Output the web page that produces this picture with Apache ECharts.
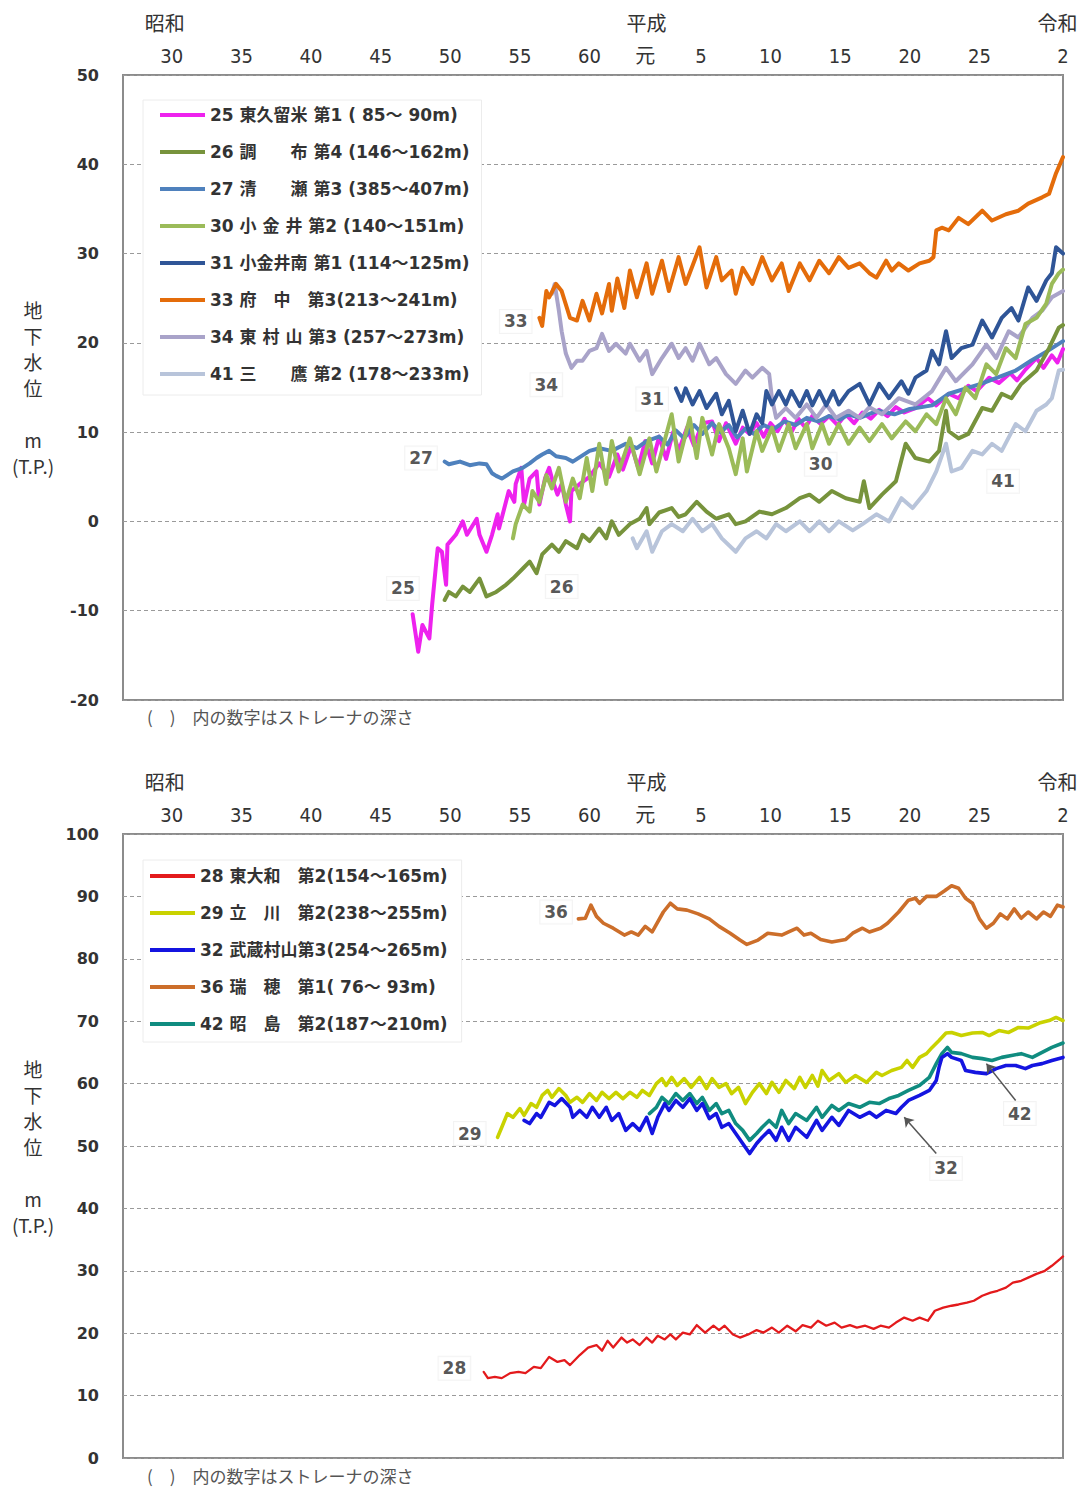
<!DOCTYPE html>
<html lang="ja">
<head>
<meta charset="utf-8">
<title>地下水位の経年変化</title>
<script src="https://cdn.jsdelivr.net/npm/echarts@6/dist/echarts.min.js"></script>
<style>
  html, body { margin: 0; padding: 0; background: #fff; }
  #chart { width: 1091px; height: 1488px; }
</style>
</head>
<body>
<div id="chart"></div>
<script>
// ---------- axis labels (western year -> Japanese era year) ----------
const tickYears  = [1955, 1960, 1965, 1970, 1975, 1980, 1985, 1989, 1993, 1998, 2003, 2008, 2013, 2019];
const tickLabels = ['30', '35', '40', '45', '50', '55', '60', '元', '5', '10', '15', '20', '25', '2'];
const eraYears   = [1954.5, 1989.1, 2018.6];
const eraLabels  = ['昭和', '平成', '令和'];

// ---------- upper panel: groundwater level (m, T.P.) ----------
const s25 = [[1972.3,-10.4],[1972.7,-14.6],[1973.0,-11.6],[1973.5,-13.1],[1973.7,-9.3],[1974.0,-4.5],[1974.1,-3.0],[1974.4,-3.4],[1974.7,-7.1],[1974.8,-2.6],[1975.4,-1.5],[1975.9,0.0],[1976.2,-1.5],[1976.9,0.3],[1977.1,-1.5],[1977.6,-3.4],[1978.0,-1.5],[1978.4,0.8],[1978.5,-0.8],[1979.0,2.2],[1979.2,3.4],[1979.6,2.2],[1979.7,4.2],[1980.1,6.0],[1980.3,1.9],[1980.7,4.8],[1981.2,5.6],[1981.4,1.9],[1981.8,4.8],[1982.1,6.0],[1982.3,4.8],[1982.7,3.0],[1983.0,4.2],[1983.3,1.9],[1983.6,0.0],[1983.7,3.4],[1984.3,4.2],[1985.0,5.0],[1985.7,6.5],[1986.4,5.0],[1987.0,7.5],[1987.4,5.8],[1988.0,8.5],[1988.5,6.0],[1989.0,9.0],[1989.5,6.5],[1990.0,9.5],[1990.5,7.0],[1991.0,10.0],[1991.4,7.9],[1992.0,10.5],[1992.5,8.5],[1993.1,11.0],[1993.8,11.2],[1994.3,9.0],[1994.8,11.0],[1995.5,8.7],[1996.0,10.5],[1996.5,9.8],[1997.0,11.0],[1997.5,9.5],[1998.0,11.0],[1998.5,10.1],[1999.0,11.5],[1999.5,10.0],[2000.0,11.5],[2000.5,10.5],[2001.0,11.8],[2001.6,10.9],[2002.2,11.8],[2002.8,10.8],[2003.4,12.0],[2004.0,11.0],[2004.6,12.2],[2005.2,11.5],[2005.8,12.5],[2006.4,11.8],[2007.0,12.8],[2007.6,12.2],[2008.4,12.7],[2009.3,13.8],[2009.9,13.0],[2010.8,14.3],[2011.5,13.8],[2012.2,15.2],[2012.8,14.6],[2013.7,16.1],[2014.4,15.5],[2015.2,16.6],[2015.7,15.8],[2016.3,17.0],[2017.1,18.3],[2017.6,17.2],[2018.2,18.6],[2018.6,17.8],[2019.0,19.3]];
const s26 = [[1974.6,-8.8],[1974.9,-7.9],[1975.4,-8.4],[1975.9,-7.3],[1976.4,-7.9],[1977.1,-6.4],[1977.6,-8.4],[1978.3,-7.9],[1979.0,-7.1],[1979.5,-6.4],[1980.2,-5.3],[1980.7,-4.5],[1981.2,-5.8],[1981.6,-3.7],[1982.3,-2.6],[1982.8,-3.4],[1983.3,-2.2],[1984.1,-3.0],[1984.5,-1.5],[1985.0,-2.2],[1985.7,-0.8],[1986.2,-1.9],[1986.6,0.0],[1987.1,-1.5],[1987.9,-0.3],[1988.6,0.3],[1989.1,1.5],[1989.3,-0.3],[1990.0,1.0],[1990.9,1.5],[1991.4,0.5],[1991.9,0.8],[1992.7,2.2],[1993.4,1.1],[1994.1,0.3],[1995.0,0.8],[1995.5,-0.3],[1996.2,0.0],[1997.2,1.1],[1998.1,0.8],[1999.1,1.5],[2000.1,2.6],[2000.8,3.0],[2001.5,2.2],[2002.4,3.4],[2003.4,2.6],[2004.4,2.2],[2004.7,4.5],[2005.1,1.5],[2006.0,3.0],[2007.0,4.5],[2007.7,8.7],[2008.4,7.1],[2009.4,6.7],[2010.1,7.9],[2010.6,12.4],[2010.8,10.1],[2011.5,9.3],[2012.2,9.8],[2013.2,12.7],[2013.9,12.4],[2014.6,14.3],[2015.3,13.8],[2016.0,15.4],[2017.1,16.9],[2018.0,19.4],[2018.7,21.7],[2019.0,22.0]];
const s27 = [[1974.6,6.7],[1974.9,6.4],[1975.7,6.7],[1976.4,6.3],[1977.1,6.5],[1977.6,6.4],[1978.0,5.4],[1978.3,5.1],[1978.7,4.8],[1979.5,5.6],[1980.2,6.0],[1980.7,6.5],[1981.2,7.1],[1981.6,7.5],[1982.1,7.9],[1982.6,7.3],[1983.3,7.1],[1983.8,6.7],[1985.0,7.9],[1985.7,8.2],[1986.6,7.9],[1987.6,8.7],[1988.4,8.2],[1989.1,9.0],[1990.0,9.5],[1990.6,8.6],[1991.2,10.2],[1991.8,9.3],[1992.5,10.8],[1993.1,9.8],[1993.8,11.0],[1994.4,10.0],[1995.0,10.8],[1995.6,9.4],[1996.2,10.4],[1996.8,9.8],[1997.5,10.8],[1998.2,10.3],[1999.0,11.2],[1999.8,10.8],[2000.6,11.6],[2001.4,11.2],[2002.2,11.8],[2003.0,11.4],[2003.6,12.0],[2004.4,11.6],[2005.7,12.4],[2006.9,12.0],[2008.0,12.6],[2009.6,13.0],[2010.8,14.3],[2013.1,15.4],[2015.6,16.9],[2016.7,18.0],[2017.9,19.1],[2019.0,20.2]];
const s30 = [[1979.5,-1.9],[1979.7,-0.3],[1980.2,1.9],[1980.7,1.1],[1980.9,3.4],[1981.4,2.2],[1981.9,5.2],[1982.3,3.7],[1982.8,6.0],[1983.3,2.2],[1983.8,4.8],[1984.3,2.6],[1984.8,7.1],[1985.2,3.4],[1985.7,8.7],[1986.2,4.2],[1986.6,9.0],[1987.1,5.6],[1987.9,9.3],[1988.6,5.3],[1989.3,9.3],[1989.8,5.6],[1990.9,12.0],[1991.4,6.7],[1992.2,11.6],[1992.7,7.1],[1993.1,11.6],[1993.8,7.5],[1994.3,10.9],[1995.0,8.2],[1995.5,5.3],[1996.0,9.3],[1996.3,5.6],[1997.0,10.1],[1997.4,7.9],[1998.1,10.5],[1998.6,7.9],[1999.3,10.9],[1999.8,8.2],[2000.6,10.9],[2001.0,8.2],[2001.7,10.9],[2002.2,8.7],[2002.9,10.9],[2003.6,8.7],[2004.4,10.5],[2005.1,9.0],[2006.0,10.9],[2006.7,9.3],[2007.7,11.2],[2008.4,10.1],[2009.2,12.0],[2009.9,10.9],[2010.6,13.8],[2011.3,12.0],[2012.0,15.0],[2012.7,13.8],[2013.5,17.6],[2014.2,16.5],[2014.9,19.4],[2015.6,18.3],[2016.3,22.1],[2017.1,22.8],[2017.8,24.4],[2018.2,26.6],[2018.7,27.8],[2019.0,28.2]];
const s31 = [[1991.2,14.9],[1991.6,13.5],[1991.9,14.9],[1992.4,13.1],[1992.9,14.6],[1993.4,12.7],[1994.1,14.3],[1994.5,12.0],[1995.0,13.5],[1995.5,10.1],[1996.0,12.4],[1996.5,9.8],[1997.0,12.0],[1997.4,11.0],[1997.7,14.6],[1998.1,13.1],[1998.6,14.6],[1999.1,13.1],[1999.5,14.6],[2000.1,12.9],[2000.6,14.6],[2001.0,13.0],[2001.5,14.6],[2002.0,13.0],[2002.5,14.6],[2002.9,13.1],[2003.6,14.6],[2004.4,15.4],[2005.1,13.1],[2005.8,15.4],[2006.5,13.8],[2007.4,15.7],[2007.9,14.3],[2008.4,16.1],[2009.2,16.9],[2009.6,19.1],[2010.1,17.6],[2010.6,21.3],[2011.0,18.3],[2011.7,19.4],[2012.5,19.8],[2013.2,22.5],[2013.9,20.6],[2014.6,22.8],[2015.3,23.9],[2015.8,22.5],[2016.5,26.2],[2017.1,24.7],[2017.8,27.0],[2018.2,27.8],[2018.5,30.7],[2019.0,30.0]];
const s33 = [[1981.4,22.8],[1981.6,21.9],[1981.9,25.8],[1982.1,25.1],[1982.6,26.6],[1983.0,25.8],[1983.6,22.8],[1984.1,22.5],[1984.5,24.7],[1985.0,22.5],[1985.5,25.5],[1985.9,23.3],[1986.4,26.6],[1986.6,23.6],[1987.0,27.2],[1987.5,23.9],[1987.9,28.1],[1988.4,25.1],[1989.1,28.9],[1989.5,25.5],[1990.2,29.2],[1990.7,25.8],[1991.4,29.6],[1991.9,26.6],[1992.9,30.7],[1993.4,26.2],[1994.1,29.6],[1994.5,27.0],[1995.2,28.1],[1995.5,25.5],[1996.0,28.4],[1996.7,26.6],[1997.4,29.6],[1998.1,27.0],[1998.8,28.9],[1999.3,25.8],[2000.1,28.9],[2000.8,27.0],[2001.5,29.2],[2002.2,27.8],[2002.9,29.6],[2003.6,28.4],[2004.4,28.9],[2005.1,27.8],[2005.6,27.3],[2006.3,29.2],[2006.7,28.1],[2007.2,28.9],[2007.9,28.1],[2008.7,28.9],[2009.4,29.2],[2009.7,29.6],[2009.9,32.6],[2010.3,32.9],[2010.8,32.6],[2011.5,34.0],[2012.2,33.3],[2013.2,34.8],[2013.9,33.7],[2014.9,34.4],[2015.8,34.8],[2016.5,35.6],[2017.5,36.3],[2018.0,36.7],[2018.5,39.0],[2019.0,40.8]];
const s34 = [[1982.3,25.5],[1982.5,26.6],[1982.8,23.6],[1983.0,21.3],[1983.3,18.8],[1983.7,17.2],[1984.1,18.0],[1984.5,18.0],[1985.0,19.1],[1985.5,19.4],[1985.9,21.0],[1986.4,19.1],[1986.9,19.9],[1987.6,18.8],[1987.9,19.9],[1988.6,18.0],[1989.1,19.1],[1989.5,16.5],[1990.2,18.3],[1990.9,19.9],[1991.4,18.3],[1991.9,19.4],[1992.4,18.0],[1992.9,19.9],[1993.6,17.6],[1994.1,18.3],[1994.8,16.5],[1995.5,15.4],[1996.2,16.9],[1996.7,16.1],[1997.4,17.2],[1997.9,16.5],[1998.1,13.8],[1998.4,11.6],[1999.1,12.7],[1999.8,11.6],[2000.6,13.1],[2001.3,11.6],[2002.0,13.1],[2002.7,11.6],[2003.6,12.4],[2004.4,11.6],[2005.1,12.8],[2006.0,12.0],[2007.2,13.8],[2008.4,13.1],[2009.6,14.6],[2010.6,17.2],[2011.3,15.7],[2012.5,17.6],[2013.5,19.8],[2014.2,18.3],[2015.1,21.3],[2015.8,20.6],[2016.8,22.8],[2017.5,23.6],[2018.2,25.1],[2019.0,25.8]];
const s41 = [[1988.1,-1.9],[1988.4,-3.0],[1989.1,-1.1],[1989.5,-3.4],[1990.2,-1.1],[1990.9,-0.3],[1991.7,-1.1],[1992.4,0.3],[1993.1,-1.1],[1993.8,-0.3],[1994.5,-1.9],[1995.5,-3.4],[1996.2,-1.9],[1997.0,-1.1],[1997.7,-1.9],[1998.4,-0.3],[1999.1,-1.1],[2000.1,0.0],[2000.8,-1.1],[2001.5,0.0],[2002.2,-1.1],[2002.9,0.0],[2003.9,-1.0],[2004.6,-0.3],[2005.6,0.8],[2006.5,0.0],[2007.4,2.6],[2008.2,1.5],[2009.2,3.4],[2009.9,5.6],[2010.6,8.7],[2011.0,5.6],[2011.7,6.0],[2012.5,7.9],[2013.2,7.5],[2013.9,8.7],[2014.6,7.9],[2015.6,10.9],[2016.3,10.1],[2017.1,12.4],[2017.8,13.1],[2018.2,13.8],[2018.7,16.9],[2019.0,17.0]];

// ---------- lower panel: groundwater level (m, T.P.) ----------
const s28 = [[1977.4,13.8],[1977.7,12.8],[1978.2,13.0],[1978.7,12.8],[1979.3,13.6],[1979.9,13.8],[1980.4,13.6],[1981.0,14.6],[1981.5,14.4],[1982.1,16.2],[1982.7,15.4],[1983.2,15.7],[1983.6,14.9],[1984.3,16.5],[1984.9,17.7],[1985.5,18.1],[1985.9,17.2],[1986.3,18.8],[1986.7,17.7],[1987.3,19.3],[1987.7,18.5],[1988.1,19.0],[1988.6,18.1],[1989.1,19.3],[1989.5,18.5],[1989.9,19.6],[1990.4,19.0],[1990.8,19.8],[1991.2,19.0],[1991.7,20.1],[1992.2,19.8],[1992.7,21.3],[1993.3,20.1],[1993.9,21.2],[1994.3,20.5],[1994.7,21.2],[1995.3,19.8],[1995.8,19.3],[1996.4,19.8],[1997.0,20.5],[1997.5,20.1],[1998.1,20.9],[1998.6,20.1],[1999.2,21.2],[1999.8,20.3],[2000.3,21.3],[2000.9,20.9],[2001.4,22.0],[2002.0,21.2],[2002.6,21.7],[2003.1,20.9],[2003.7,21.3],[2004.2,20.9],[2004.8,21.2],[2005.4,20.7],[2005.9,21.2],[2006.5,20.9],[2007.0,21.7],[2007.6,22.5],[2008.2,22.0],[2008.7,22.5],[2009.3,22.0],[2009.8,23.6],[2010.4,24.1],[2011.0,24.4],[2011.5,24.6],[2012.1,24.9],[2012.6,25.2],[2013.2,26.0],[2013.8,26.5],[2014.3,26.8],[2014.9,27.3],[2015.4,28.1],[2016.0,28.4],[2016.5,28.9],[2017.1,29.5],[2017.7,30.0],[2018.2,30.8],[2018.8,31.9],[2019.0,32.3]];
const s29 = [[1978.4,51.4],[1978.7,53.0],[1979.1,55.2],[1979.5,54.6],[1980.0,56.0],[1980.3,54.9],[1980.8,56.8],[1981.2,56.2],[1981.6,58.1],[1982.0,58.9],[1982.3,57.8],[1982.8,59.2],[1983.3,58.1],[1983.6,57.0],[1984.1,57.8],[1984.5,57.0],[1985.0,58.4],[1985.5,57.3],[1985.9,58.6],[1986.4,57.6],[1986.9,58.6],[1987.4,57.6],[1987.9,58.6],[1988.4,57.8],[1988.8,58.9],[1989.3,58.1],[1989.8,60.0],[1990.2,60.8],[1990.5,59.7],[1990.9,61.0],[1991.3,59.7],[1991.8,60.8],[1992.3,59.4],[1992.9,61.0],[1993.4,59.2],[1993.8,60.8],[1994.3,59.4],[1994.8,60.0],[1995.2,58.4],[1995.7,59.4],[1996.2,56.8],[1996.7,58.6],[1997.2,60.0],[1997.7,58.4],[1998.1,60.2],[1998.6,58.6],[1999.1,60.5],[1999.7,59.2],[2000.1,61.0],[2000.5,59.4],[2001.0,61.3],[2001.4,59.6],[2001.7,62.1],[2002.2,60.5],[2002.9,61.6],[2003.4,60.2],[2004.1,61.3],[2004.9,60.2],[2005.6,61.8],[2006.0,61.3],[2006.7,62.1],[2007.4,62.6],[2007.8,63.7],[2008.2,62.6],[2008.7,64.2],[2009.2,64.8],[2009.6,65.8],[2010.1,66.9],[2010.6,68.1],[2011.0,68.2],[2011.7,67.7],[2012.5,68.1],[2013.2,68.2],[2013.7,67.7],[2014.4,68.5],[2015.1,68.2],[2015.8,69.0],[2016.5,68.9],[2017.3,69.7],[2018.0,70.1],[2018.5,70.6],[2019.0,70.1]];
const s32 = [[1980.3,54.1],[1980.7,53.6],[1981.2,55.2],[1981.5,54.6],[1982.1,57.0],[1982.5,56.5],[1983.0,57.6],[1983.6,56.2],[1983.8,54.6],[1984.3,55.7],[1984.8,54.6],[1985.2,56.2],[1985.7,54.6],[1986.2,56.2],[1986.6,54.1],[1987.1,55.2],[1987.6,52.5],[1988.1,53.6],[1988.6,52.5],[1989.1,54.6],[1989.5,52.0],[1989.9,54.6],[1990.4,56.8],[1990.7,55.7],[1991.2,57.3],[1991.7,56.2],[1992.2,57.6],[1992.7,55.7],[1993.1,56.8],[1993.6,54.4],[1994.1,55.2],[1994.5,53.0],[1995.0,53.6],[1995.5,52.0],[1996.0,50.4],[1996.5,48.8],[1997.0,50.4],[1997.4,51.4],[1997.9,52.5],[1998.4,50.9],[1998.8,53.0],[1999.3,50.9],[1999.8,53.0],[2000.6,51.4],[2001.3,54.1],[2001.7,52.5],[2002.4,54.6],[2002.9,53.3],[2003.6,55.7],[2004.4,54.6],[2005.1,55.4],[2005.6,54.6],[2006.3,55.7],[2007.0,55.2],[2007.4,56.2],[2007.9,57.3],[2008.7,58.1],[2009.4,58.9],[2009.9,60.5],[2010.1,62.6],[2010.3,64.2],[2010.7,64.8],[2011.0,64.2],[2011.7,63.7],[2012.0,62.1],[2012.7,61.8],[2013.5,61.6],[2014.2,62.4],[2014.9,62.9],[2015.6,62.9],[2016.3,62.4],[2016.8,62.9],[2017.5,63.2],[2018.2,63.7],[2019.0,64.2]];
const s36 = [[1984.2,86.4],[1984.7,86.5],[1985.1,88.6],[1985.5,86.8],[1986.0,85.7],[1986.7,84.9],[1987.5,83.8],[1988.0,84.3],[1988.5,83.8],[1989.0,85.2],[1989.5,84.3],[1990.3,87.5],[1990.8,88.9],[1991.3,88.0],[1992.0,87.8],[1992.8,87.2],[1993.6,86.4],[1994.3,85.2],[1995.1,84.1],[1995.8,83.0],[1996.3,82.3],[1997.1,83.0],[1997.8,84.1],[1998.8,83.8],[1999.3,84.3],[1999.9,84.9],[2000.4,83.8],[2000.9,84.1],[2001.6,83.1],[2002.4,82.7],[2003.4,83.1],[2003.9,84.1],[2004.6,84.9],[2005.1,84.3],[2005.9,84.9],[2006.4,85.7],[2007.2,87.5],[2007.9,89.4],[2008.4,89.7],[2008.7,88.9],[2009.2,90.0],[2009.9,90.0],[2010.5,90.9],[2011.0,91.7],[2011.5,91.3],[2012.0,89.7],[2012.5,88.9],[2013.0,86.4],[2013.5,84.9],[2014.0,85.7],[2014.5,87.2],[2015.0,86.4],[2015.5,88.0],[2016.0,86.5],[2016.5,87.5],[2017.1,86.4],[2017.6,87.5],[2018.1,86.8],[2018.6,88.6],[2019.0,88.3]];
const s42 = [[1989.3,55.2],[1989.8,56.2],[1990.2,57.8],[1990.7,56.8],[1991.2,58.4],[1991.7,57.3],[1992.2,58.4],[1992.7,56.8],[1993.1,57.8],[1993.6,55.7],[1994.1,56.8],[1994.5,55.2],[1995.0,55.7],[1995.5,53.6],[1996.0,52.5],[1996.5,50.9],[1997.0,52.0],[1997.4,53.0],[1997.9,54.1],[1998.4,53.0],[1998.8,55.7],[1999.3,53.6],[1999.8,55.2],[2000.6,54.1],[2001.3,56.2],[2001.7,54.6],[2002.4,56.5],[2002.9,55.7],[2003.6,56.8],[2004.4,56.2],[2005.1,57.0],[2005.8,56.8],[2006.5,57.6],[2007.2,58.1],[2007.9,58.9],[2008.7,59.7],[2009.4,61.0],[2009.9,63.2],[2010.3,64.8],[2010.7,65.8],[2011.0,65.0],[2011.7,64.8],[2012.5,64.2],[2013.2,64.0],[2013.9,63.7],[2014.6,64.2],[2015.3,64.5],[2016.0,64.8],[2016.8,64.2],[2017.5,65.0],[2018.2,65.8],[2019.0,66.5]];

// ---------- well numbers written beside the lines ----------
const tagsUpper = [['33',1979.7,22.4],['34',1981.9,15.3],['31',1989.5,13.7],['27',1972.9,7.1],['30',2001.6,6.4],['25',1971.6,-7.5],['26',1983.0,-7.3],['41',2014.7,4.5]];
const tagsLower = [['36',1982.6,87.5],['29',1976.4,52.0],['42',2015.9,55.2],['32',2010.6,46.4],['28',1975.3,14.4]];
// leader arrows: [from, to]
const arrowsLower = [[[2015.6,57.3],[2013.5,63.2]], [[2009.9,48.8],[2007.6,54.6]]];

// ---------- series names (legend text) ----------
const upperNames = [
  '25 東久留米 第1 ( 85～ 90m)',
  '26 調　　布 第4 (146～162m)',
  '27 清　　瀬 第3 (385～407m)',
  '30 小 金 井 第2 (140～151m)',
  '31 小金井南 第1 (114～125m)',
  '33 府　中　第3(213～241m)',
  '34 東 村 山 第3 (257～273m)',
  '41 三　　鷹 第2 (178～233m)'
];
const lowerNames = [
  '28 東大和　第2(154～165m)',
  '29 立　川　第2(238～255m)',
  '32 武蔵村山第3(254～265m)',
  '36 瑞　穂　第1( 76～ 93m)',
  '42 昭　島　第2(187～210m)'
];

const chart = echarts.init(document.getElementById('chart'), null, { renderer: 'svg' });

const NUM_FONT = '"Liberation Sans Narrow", "DejaVu Sans Condensed", "Noto Sans CJK JP", sans-serif';
const BOLD_FONT = '"DejaVu Sans", "Noto Sans CJK JP", sans-serif';
const CJK_FONT = '"Noto Sans CJK JP", sans-serif';

function labelFor(v, years, labels) {
  let best = 0;
  for (let i = 1; i < years.length; i++) {
    if (Math.abs(years[i] - v) < Math.abs(years[best] - v)) best = i;
  }
  return labels[best];
}

function yearAxis(gridIndex) {
  return {
    type: 'value', gridIndex: gridIndex, position: 'top', min: 1951.5, max: 2019,
    axisLine: { show: false }, axisTick: { show: false }, splitLine: { show: false },
    axisLabel: {
      customValues: tickYears, margin: 9, fontSize: 20, color: '#333', fontFamily: NUM_FONT,
      formatter: function (v) { return labelFor(v, tickYears, tickLabels); }
    }
  };
}
function eraAxis(gridIndex) {
  return {
    type: 'value', gridIndex: gridIndex, position: 'top', offset: 34, min: 1951.5, max: 2019,
    axisLine: { show: false }, axisTick: { show: false }, splitLine: { show: false },
    axisLabel: {
      customValues: eraYears, margin: 9, fontSize: 20, color: '#333', fontFamily: CJK_FONT,
      formatter: function (v) { return labelFor(v, eraYears, eraLabels); }
    }
  };
}
function levelAxis(gridIndex, min, max) {
  return {
    type: 'value', gridIndex: gridIndex, min: min, max: max, interval: 10,
    axisLine: { show: false }, axisTick: { show: false },
    axisLabel: { margin: 24, fontSize: 16, fontWeight: 'bold', color: '#333', fontFamily: BOLD_FONT },
    splitLine: { show: true, lineStyle: { color: '#9a9a9a', width: 1, type: [4, 3] } },
    name: '地\n下\n水\n位\n\nm\n(T.P.)',
    nameLocation: 'middle', nameRotate: 0, nameGap: 90,
    nameTextStyle: { align: 'center', verticalAlign: 'middle', fontSize: 19, lineHeight: 26, color: '#333', fontFamily: CJK_FONT }
  };
}

function line(name, data, color, width, axis) {
  return {
    type: 'line', name: name, data: data, xAxisIndex: axis, yAxisIndex: axis === 0 ? 0 : 1,
    symbol: 'none', showSymbol: false, smooth: false, silent: true,
    lineStyle: { color: color, width: width, join: 'round', cap: 'round' }, itemStyle: { color: color }
  };
}
function tagSeries(tags, xIdx, yIdx) {
  return {
    type: 'scatter', xAxisIndex: xIdx, yAxisIndex: yIdx, symbolSize: 1, silent: true, z: 5,
    itemStyle: { color: 'rgba(0,0,0,0)' },
    data: tags.map(function (t) { return { name: t[0], value: [t[1], t[2]] }; }),
    label: {
      show: true, position: 'inside', formatter: '{b}', fontSize: 17, fontWeight: 'bold', color: '#2a2a2a',
      fontFamily: BOLD_FONT, backgroundColor: '#fff', borderColor: '#f0f0f0', borderWidth: 1, padding: [3, 4]
    }
  };
}

const upperColors = ['#EE22EE', '#77933C', '#4F81BD', '#9BBB59', '#2F5597', '#E46C0A', '#A9A3C9', '#B8C4DA'];
const lowerColors = ['#E31A1C', '#C9D200', '#1414E0', '#CC6E2A', '#108C80'];
const upperData = [s25, s26, s27, s30, s31, s33, s34, s41];
const lowerData = [s28, s29, s32, s36, s42];

// drawing order: pale lines first so the darker ones stay visible
const upperOrder = [7, 0, 2, 6, 4, 1, 3, 5];
const series = [];
upperOrder.forEach(function (i) { series.push(line(upperNames[i], upperData[i], upperColors[i], 4, 0)); });
[3, 0, 1, 4, 2].forEach(function (i) {
  series.push(line(lowerNames[i], lowerData[i], lowerColors[i], i === 0 ? 2.3 : 3.6, 2));
});
series.push(tagSeries(tagsUpper, 0, 0));
series.push(tagSeries(tagsLower, 2, 1));
series.push({
  type: 'lines', coordinateSystem: 'cartesian2d', xAxisIndex: 2, yAxisIndex: 1, silent: true, z: 6,
  symbol: ['none', 'arrow'], symbolSize: 9,
  lineStyle: { color: '#555', width: 1.5, opacity: 1 },
  data: arrowsLower.map(function (a) { return { coords: a }; })
});

function legend(names, top, pad) {
  return {
    data: names, orient: 'vertical', left: 143, top: top, selectedMode: false,
    icon: 'rect', itemWidth: 45, itemHeight: 4, itemGap: 17,
    backgroundColor: '#fff', borderColor: '#ececec', borderWidth: 1, padding: pad,
    textStyle: { fontSize: 17, fontWeight: 'bold', color: '#333', fontFamily: BOLD_FONT, lineHeight: 20 }
  };
}

const noteText = '(　)　内の数字はストレーナの深さ';

chart.setOption({
  animation: false,
  backgroundColor: '#fff',
  grid: [
    { left: 123, top: 75, width: 940, height: 625, show: true, borderColor: '#8c8c8c', borderWidth: 2, backgroundColor: 'transparent' },
    { left: 123, top: 834, width: 940, height: 624, show: true, borderColor: '#8c8c8c', borderWidth: 2, backgroundColor: 'transparent' }
  ],
  xAxis: [yearAxis(0), eraAxis(0), yearAxis(1), eraAxis(1)],
  yAxis: [levelAxis(0, -20, 50), levelAxis(1, 0, 100)],
  legend: [legend(upperNames, 100, [5, 12, 11, 17]), legend(lowerNames, 860, [6, 14, 8, 7])],
  graphic: [
    { type: 'text', left: 147, top: 708, style: { text: noteText, fontSize: 17, fill: '#555', fontFamily: CJK_FONT } },
    { type: 'text', left: 147, top: 1467, style: { text: noteText, fontSize: 17, fill: '#555', fontFamily: CJK_FONT } }
  ],
  series: series
});
</script>
</body>
</html>
